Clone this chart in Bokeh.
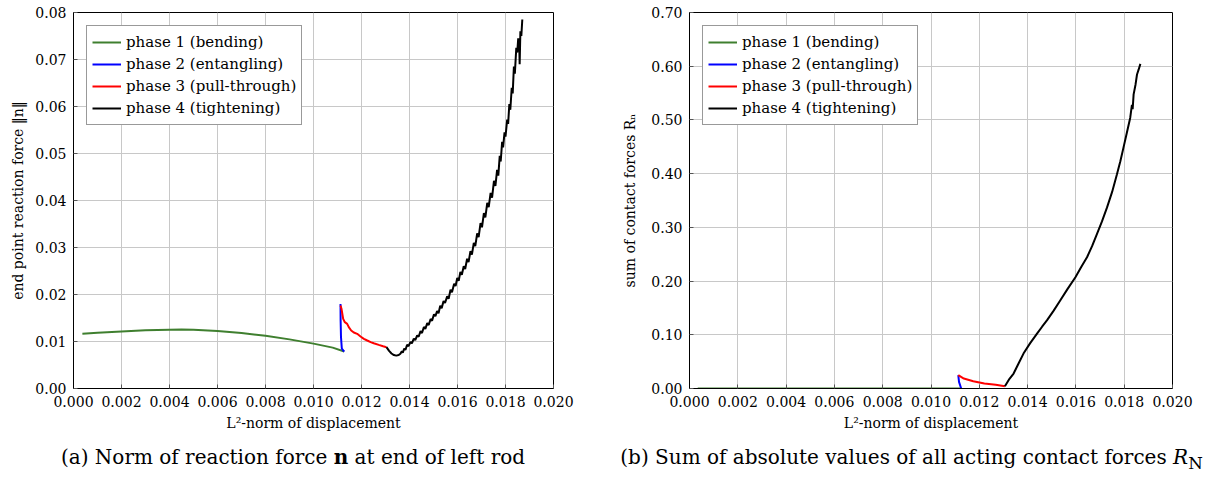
from bokeh.plotting import figure
from bokeh.models import Range1d, FixedTicker, PrintfTickFormatter, Div
from bokeh.layouts import column, row
from bokeh.embed import file_html
from bokeh.resources import INLINE

# ---------------- data: (a) end point reaction force ----------------
a_phase1_x = [0.00037, 0.0010, 0.0020, 0.0030, 0.0040, 0.0045, 0.0050, 0.0060, 0.0070, 0.0080, 0.0090, 0.0100, 0.0108, 0.01128]
a_phase1_y = [0.01163, 0.01185, 0.01215, 0.01240, 0.01252, 0.01255, 0.01250, 0.01225, 0.01180, 0.01120, 0.01045, 0.00955, 0.00870, 0.00787]

a_phase2_x = [0.01128, 0.01118, 0.011145, 0.01113, 0.011125]
a_phase2_y = [0.00787, 0.0085, 0.0110, 0.0145, 0.0180]

a_phase3_x = [0.011125, 0.011167, 0.011236, 0.011306, 0.011403, 0.01147, 0.01157, 0.01168, 0.01182, 0.01196,
              0.01210, 0.01224, 0.01238, 0.01251, 0.01272, 0.01290, 0.01304]
a_phase3_y = [0.01766, 0.01695, 0.01482, 0.01411, 0.01376, 0.01305, 0.01234, 0.01191, 0.01163, 0.01106,
              0.01057, 0.01021, 0.00986, 0.00964, 0.00929, 0.00900, 0.00879]

a_phase4_x = [0.01304, 0.01315, 0.01325, 0.01335, 0.01345, 0.01355, 0.01362, 0.01368, 0.01372, 0.01378,
              0.01383, 0.01390, 0.01396, 0.01404, 0.01410, 0.01418, 0.01424, 0.01432, 0.01438, 0.01446,
              0.01452, 0.01460, 0.01466, 0.01474, 0.01480, 0.01488, 0.01494, 0.01502, 0.01508, 0.01515,
              0.01521, 0.01528, 0.01534, 0.01542, 0.01548, 0.01557, 0.01563, 0.01571, 0.01577, 0.01586,
              0.01592, 0.01599, 0.01605, 0.01612, 0.01618, 0.01626, 0.01632, 0.01640, 0.01646, 0.01654,
              0.01660, 0.01668, 0.01674, 0.01682, 0.01688, 0.01696, 0.01702, 0.01710, 0.01716, 0.01724,
              0.01730, 0.01738, 0.01744, 0.01752, 0.01758, 0.01765, 0.01770, 0.01776, 0.01780, 0.01786,
              0.01790, 0.01796, 0.01800, 0.01807, 0.01811, 0.01816, 0.01820, 0.01826, 0.01830, 0.01835,
              0.01839, 0.01845, 0.01849, 0.01853, 0.01857, 0.01859, 0.01862, 0.01866, 0.01870]
a_phase4_y = [0.00879, 0.00800, 0.00745, 0.00712, 0.00700, 0.00712, 0.00740, 0.00790, 0.00760, 0.00850,
              0.00820, 0.00930, 0.00900, 0.00990, 0.00960, 0.01060, 0.01030, 0.01130, 0.01100, 0.01220,
              0.01180, 0.01310, 0.01270, 0.01390, 0.01350, 0.01480, 0.01440, 0.01580, 0.01540, 0.01650,
              0.01600, 0.01760, 0.01710, 0.01860, 0.01820, 0.01960, 0.01910, 0.02100, 0.02050, 0.02230,
              0.02180, 0.02350, 0.02290, 0.02480, 0.02420, 0.02600, 0.02540, 0.02760, 0.02690, 0.02920,
              0.02850, 0.03100, 0.03030, 0.03300, 0.03220, 0.03520, 0.03430, 0.03730, 0.03640, 0.03950,
              0.03860, 0.04160, 0.04060, 0.04420, 0.04310, 0.04650, 0.04530, 0.04950, 0.04830, 0.05250,
              0.05130, 0.05450, 0.05360, 0.05720, 0.05630, 0.06050, 0.05930, 0.06400, 0.06280, 0.06850,
              0.06700, 0.07250, 0.07150, 0.07450, 0.07350, 0.06900, 0.07600, 0.07500, 0.07850]

# ---------------- data: (b) sum of contact forces ----------------
b_phase1_x = [0.00034, 0.0050, 0.01125]
b_phase1_y = [0.0, 0.0, 0.0]

b_phase2_x = [0.01125, 0.01116, 0.01113]
b_phase2_y = [0.0, 0.0123, 0.0247]

b_phase3_x = [0.01113, 0.01136, 0.01175, 0.01221, 0.01268, 0.01306]
b_phase3_y = [0.0247, 0.0185, 0.0136, 0.0093, 0.0068, 0.0043]

b_phase4_x = [0.01306, 0.01325, 0.01342, 0.01362, 0.01383, 0.01410, 0.01439, 0.01460, 0.01480, 0.01508,
              0.01535, 0.01565, 0.01598, 0.01622, 0.01646, 0.01667, 0.01687, 0.01708, 0.01729, 0.01750,
              0.01770, 0.01784, 0.01797, 0.01811, 0.01825, 0.01832, 0.01835, 0.01839, 0.01847, 0.01853,
              0.01860, 0.01867]
b_phase4_y = [0.004, 0.018, 0.0278, 0.046, 0.065, 0.084, 0.102, 0.115, 0.1268, 0.145,
              0.1639, 0.185, 0.2071, 0.226, 0.2443, 0.265, 0.2876, 0.311, 0.3371, 0.366,
              0.399, 0.423, 0.4484, 0.476, 0.5041, 0.528, 0.520, 0.5475, 0.566, 0.5846,
              0.594, 0.6043]

x_ticks = [0.000, 0.002, 0.004, 0.006, 0.008, 0.010, 0.012, 0.014, 0.016, 0.018, 0.020]
a_y_ticks = [0.00, 0.01, 0.02, 0.03, 0.04, 0.05, 0.06, 0.07, 0.08]
b_y_ticks = [0.00, 0.10, 0.20, 0.30, 0.40, 0.50, 0.60, 0.70]

phase_labels = ["phase 1 (bending)", "phase 2 (entangling)", "phase 3 (pull-through)", "phase 4 (tightening)"]
phase_colors = ["#3f7f2f", "#0000ff", "#ff0000", "#000000"]

FONT = "DejaVu Serif"


def style_axis(ax):
    ax.axis_line_color = "black"
    ax.major_tick_in = 4
    ax.major_tick_out = 0
    ax.minor_tick_in = 0
    ax.minor_tick_out = 0
    ax.major_tick_line_color = "#555555"
    ax.major_label_text_font = FONT
    ax.major_label_text_font_size = "14px"
    ax.major_label_text_color = "black"
    ax.axis_label_text_font = FONT
    ax.axis_label_text_font_size = "14px"
    ax.axis_label_text_font_style = "normal"
    ax.axis_label_text_color = "black"


def make_fig(width, bl, br, ymax, yticks, yfmt, ylabel, series, y_label_standoff):
    p = figure(width=width, height=440, output_backend="svg", toolbar_location=None,
               x_range=Range1d(0, 0.020), y_range=Range1d(0, ymax),
               min_border_left=bl, min_border_right=br, min_border_top=12, min_border_bottom=52)
    p.outline_line_color = "black"
    p.outline_line_width = 1
    p.background_fill_color = "white"
    p.border_fill_color = "white"

    xa = p.xaxis[0]
    ya = p.yaxis[0]
    xa.ticker = FixedTicker(ticks=x_ticks)
    ya.ticker = FixedTicker(ticks=yticks)
    xa.formatter = PrintfTickFormatter(format="%.3f")
    ya.formatter = PrintfTickFormatter(format=yfmt)
    p.xgrid.ticker = FixedTicker(ticks=x_ticks)
    p.ygrid.ticker = FixedTicker(ticks=yticks)
    p.grid.grid_line_color = "#c8c8c8"
    p.grid.grid_line_width = 1

    style_axis(xa)
    style_axis(ya)

    xa.major_label_standoff = 7
    ya.major_label_standoff = 7
    xa.axis_label = "L²-norm of displacement"
    xa.axis_label_standoff = 5
    ya.axis_label = ylabel
    ya.axis_label_standoff = y_label_standoff

    for (xs, ys), lab, col in zip(series, phase_labels, phase_colors):
        p.line(xs, ys, line_color=col, line_width=2, legend_label=lab)

    lg = p.legend[0]
    lg.location = "top_left"
    lg.margin = 13
    lg.padding = 5
    lg.spacing = 0
    lg.glyph_width = 29
    lg.glyph_height = 22
    lg.label_height = 22
    lg.label_standoff = 5
    lg.label_text_font = FONT
    lg.label_text_font_size = "15px"
    lg.label_text_color = "black"
    lg.border_line_color = "#333333"
    lg.border_line_width = 1
    lg.background_fill_alpha = 1.0
    return p


p1 = make_fig(604, 73, 51, 0.08, a_y_ticks, "%.2f", "end point reaction force ‖n‖",
              [(a_phase1_x, a_phase1_y), (a_phase2_x, a_phase2_y), (a_phase3_x, a_phase3_y), (a_phase4_x, a_phase4_y)], 6)
p2 = make_fig(603, 85, 35, 0.70, b_y_ticks, "%.2f", "sum of contact forces Rₙ",
              [(b_phase1_x, b_phase1_y), (b_phase2_x, b_phase2_y), (b_phase3_x, b_phase3_y), (b_phase4_x, b_phase4_y)], 10)

cap_style = {"font-family": FONT, "font-size": "20px", "color": "black", "text-align": "center", "margin-top": "3px"}
d1 = Div(text="(a) Norm of reaction force <b>n</b> at end of left rod", width=576, height=40,
         styles=cap_style)
d2 = Div(text="<div style='padding-left:10px'>(b) Sum of absolute values of all acting contact forces <i>R</i><sub>N</sub></div>",
         width=631, height=40, styles=cap_style)

layout = column(row(p1, p2), row(d1, d2))

open("out.html", "w").write(file_html(layout, INLINE))
